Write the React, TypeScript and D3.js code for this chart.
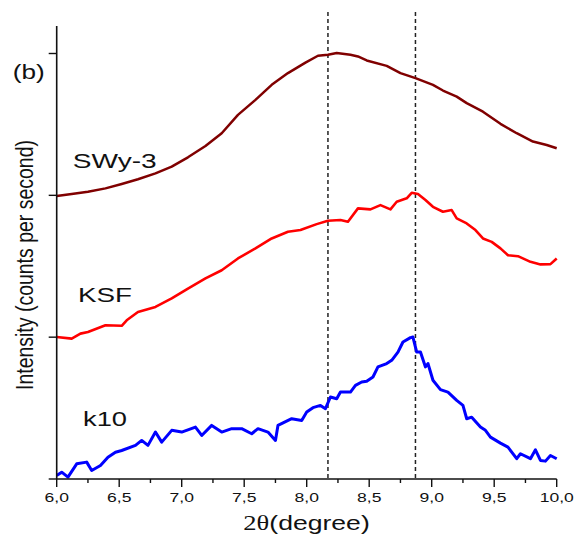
import React from "react";
import * as d3 from "d3";

const xTicksMajor = [6.0, 6.5, 7.0, 7.5, 8.0, 8.5, 9.0, 9.5, 10.0];
const xTickLabels = ["6,0", "6,5", "7,0", "7,5", "8,0", "8,5", "9,0", "9,5", "10,0"];
const xTicksMinor = [6.25, 6.75, 7.25, 7.75, 8.25, 8.75, 9.25, 9.75];
const yTicks = [0, 1, 2, 3];
const dashedX = [8.17, 8.87];

const swyX = [6.0, 6.12, 6.25, 6.39, 6.52, 6.65, 6.79, 6.92, 7.05, 7.19, 7.32, 7.45, 7.59, 7.72, 7.85, 7.99, 8.09, 8.17, 8.24, 8.35, 8.41, 8.48, 8.64, 8.75, 8.87, 9.01, 9.09, 9.2, 9.28, 9.41, 9.55, 9.68, 9.81, 9.92, 10.0];
const swyY = [1.995, 2.009, 2.025, 2.049, 2.08, 2.113, 2.155, 2.202, 2.268, 2.348, 2.438, 2.567, 2.673, 2.779, 2.862, 2.936, 2.984, 2.991, 3.003, 2.991, 2.979, 2.951, 2.913, 2.862, 2.826, 2.779, 2.739, 2.696, 2.65, 2.59, 2.504, 2.438, 2.379, 2.355, 2.332];

const ksfX = [6.0, 6.12, 6.19, 6.25, 6.39, 6.52, 6.56, 6.65, 6.79, 6.92, 7.05, 7.19, 7.32, 7.45, 7.59, 7.72, 7.85, 7.95, 8.08, 8.17, 8.27, 8.33, 8.41, 8.51, 8.59, 8.67, 8.72, 8.8, 8.84, 8.89, 8.95, 9.01, 9.09, 9.16, 9.2, 9.28, 9.35, 9.41, 9.48, 9.55, 9.61, 9.69, 9.79, 9.87, 9.95, 10.0];
const ksfY = [1.001, 0.99, 1.025, 1.037, 1.084, 1.08, 1.119, 1.178, 1.213, 1.273, 1.343, 1.414, 1.472, 1.555, 1.626, 1.696, 1.743, 1.755, 1.797, 1.821, 1.826, 1.814, 1.908, 1.901, 1.931, 1.901, 1.955, 1.979, 2.018, 2.009, 1.967, 1.919, 1.884, 1.896, 1.838, 1.802, 1.755, 1.696, 1.672, 1.626, 1.578, 1.571, 1.531, 1.513, 1.515, 1.555];

const k10X = [6.0, 6.04, 6.09, 6.16, 6.24, 6.28, 6.35, 6.41, 6.47, 6.52, 6.63, 6.68, 6.73, 6.79, 6.84, 6.92, 7.0, 7.11, 7.16, 7.24, 7.32, 7.4, 7.48, 7.56, 7.61, 7.69, 7.75, 7.77, 7.88, 7.96, 8.0, 8.05, 8.11, 8.15, 8.19, 8.24, 8.27, 8.35, 8.39, 8.44, 8.48, 8.53, 8.57, 8.64, 8.68, 8.73, 8.77, 8.83, 8.85, 8.88, 8.91, 8.95, 8.97, 9.01, 9.07, 9.13, 9.2, 9.25, 9.28, 9.32, 9.39, 9.43, 9.47, 9.55, 9.61, 9.68, 9.71, 9.79, 9.83, 9.87, 9.91, 9.95, 10.0];
const k10Y = [0.025, 0.048, 0.013, 0.107, 0.119, 0.06, 0.095, 0.154, 0.189, 0.201, 0.237, 0.272, 0.237, 0.331, 0.26, 0.343, 0.331, 0.366, 0.307, 0.378, 0.331, 0.355, 0.355, 0.319, 0.355, 0.331, 0.272, 0.378, 0.425, 0.413, 0.472, 0.503, 0.519, 0.496, 0.578, 0.566, 0.613, 0.613, 0.66, 0.684, 0.689, 0.719, 0.79, 0.814, 0.837, 0.895, 0.966, 0.997, 1.001, 0.895, 0.895, 0.79, 0.814, 0.696, 0.63, 0.613, 0.554, 0.519, 0.425, 0.436, 0.366, 0.343, 0.295, 0.253, 0.225, 0.143, 0.178, 0.143, 0.206, 0.131, 0.126, 0.166, 0.143];

const seriesNames = ["SWy-3", "KSF", "k10"];
const seriesColors = ["#800000", "#ff0000", "#0000ff"];

const FONT = "'Liberation Sans', Arial, sans-serif";

export default function App() {
  const x = d3.scaleLinear().domain([6, 10]).range([56.7, 556.7]);
  const y = d3.scaleLinear().domain([0, 3]).range([479, 53.5]);
  const line = d3
    .line<[number, number]>()
    .x((d) => x(d[0]))
    .y((d) => y(d[1]));

  const series = [
    { name: seriesNames[0], color: seriesColors[0], xs: swyX, ys: swyY, w: 2.5, lx: 72.7, ly: 168, len: 84 },
    { name: seriesNames[1], color: seriesColors[1], xs: ksfX, ys: ksfY, w: 2.6, lx: 78, ly: 302, len: 54 },
    { name: seriesNames[2], color: seriesColors[2], xs: k10X, ys: k10Y, w: 3, lx: 83, ly: 426, len: 44 },
  ];

  const y0 = y(0);
  return (
    <svg
      width={576}
      height={541}
      style={{ position: "absolute", left: 0, top: 0, background: "#fff" }}
      fontFamily={FONT}
    >
      <rect x={0} y={0} width={576} height={541} fill="#fff" />
      {dashedX.map((d, i) => (
        <line key={"dl" + i} x1={x(d)} x2={x(d)} y1={12} y2={y0} stroke="#222" strokeWidth={1.5} strokeDasharray="4,3" />
      ))}
      {series.map((s) => (
        <path
          key={s.name}
          d={line(s.xs.map((v, i) => [v, s.ys[i]] as [number, number])) || ""}
          fill="none"
          stroke={s.color}
          strokeWidth={s.w}
          strokeLinejoin="round"
        />
      ))}
      {/* axes */}
      <line x1={x(6)} x2={x(6)} y1={26} y2={y0} stroke="#111" strokeWidth={1.6} />
      <line x1={x(6)} x2={x(10)} y1={y0} y2={y0} stroke="#111" strokeWidth={1.6} />
      {yTicks.map((t) => (
        <line key={"yt" + t} x1={x(6) - 8} x2={x(6)} y1={y(t)} y2={y(t)} stroke="#111" strokeWidth={1.4} />
      ))}
      {xTicksMajor.map((t, i) => (
        <g key={"xt" + t}>
          <line x1={x(t)} x2={x(t)} y1={y0} y2={y0 + 8} stroke="#111" strokeWidth={1.4} />
          <text
            transform={`translate(${x(t)},502) scale(1.3,1)`}
            textAnchor="middle"
            fontSize={13.5}
            fill="#111"
          >
            {xTickLabels[i]}
          </text>
        </g>
      ))}
      {xTicksMinor.map((t) => (
        <line key={"xm" + t} x1={x(t)} x2={x(t)} y1={y0} y2={y0 + 4} stroke="#111" strokeWidth={1.4} />
      ))}
      <text transform="translate(306.5,530) scale(1.33,1)" textAnchor="middle" fontSize={20} fill="#111">
        <tspan fontFamily="'Liberation Serif', 'Times New Roman', serif">2θ</tspan>
        <tspan>(degree)</tspan>
      </text>
      <text
        transform="translate(33,265) rotate(-90)"
        textAnchor="middle"
        fontSize={23}
        fill="#111"
        textLength={250}
        lengthAdjust="spacingAndGlyphs"
      >
        Intensity (counts per second)
      </text>
      {series.map((s) => (
        <text key={"lb" + s.name} x={s.lx} y={s.ly} fontSize={21} fill="#111" textLength={s.len} lengthAdjust="spacingAndGlyphs">
          {s.name}
        </text>
      ))}
      <text x={12.7} y={79} fontSize={21} fill="#111" textLength={32} lengthAdjust="spacingAndGlyphs">
        (b)
      </text>
    </svg>
  );
}
